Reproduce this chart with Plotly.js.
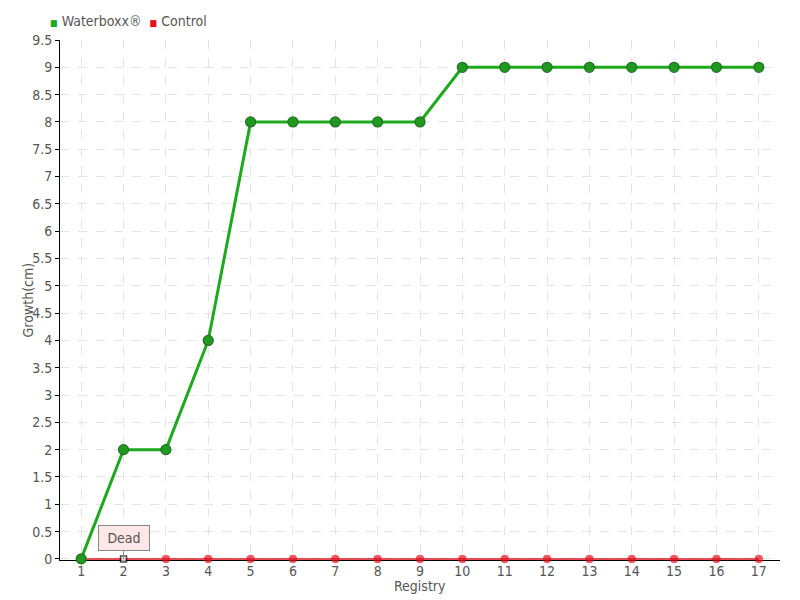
<!DOCTYPE html>
<html>
<head>
<meta charset="utf-8">
<script src="https://cdn.plot.ly/plotly-3.0.1.min.js"></script>
<style>
  html, body { margin: 0; padding: 0; background: #fff; }
  #chart { width: 800px; height: 600px; }
</style>
</head>
<body>
<div id="chart"></div>
<script>
// Registry numbers along the x axis
const registry = [1, 2, 3, 4, 5, 6, 7, 8, 9, 10, 11, 12, 13, 14, 15, 16, 17];
// Growth (cm) per registry
const waterboxx = [0, 2, 2, 4, 8, 8, 8, 8, 8, 9, 9, 9, 9, 9, 9, 9, 9];
const control = [0, 0, 0, 0, 0, 0, 0, 0, 0, 0, 0, 0, 0, 0, 0, 0, 0];
// Registry where the control plant is marked dead
const deadRegistry = 2;
const deadLabel = "Dead";
const seriesNames = ["Waterboxx®", "Control"];
const axisTitles = { x: "Registry", y: "Growth(cm)" };
const yTicks = [0, 0.5, 1, 1.5, 2, 2.5, 3, 3.5, 4, 4.5, 5, 5.5, 6, 6.5, 7, 7.5, 8, 8.5, 9, 9.5];

const font = "DejaVu Sans Condensed, sans-serif";
const textColor = "#555";
const green = "#1ea81e";
const red = "#e8101e";

const ctrlSymbols = registry.map(r => r === deadRegistry ? "square" : "circle");
const ctrlColors = registry.map(r => r === deadRegistry ? "#ffffff" : red);
const ctrlLineColors = registry.map(r => r === deadRegistry ? "#000000" : "#d01020");
const ctrlSizes = registry.map(r => r === deadRegistry ? 6 : 8);
const ctrlLineWidths = registry.map(r => r === deadRegistry ? 1.5 : 0.5);

const traces = [
  {
    x: registry, y: control, type: "scatter", mode: "lines+markers",
    name: seriesNames[1], cliponaxis: false,
    line: { color: "#e0101e", width: 1.5 },
    marker: { symbol: ctrlSymbols, color: ctrlColors, size: ctrlSizes,
              line: { color: ctrlLineColors, width: ctrlLineWidths } }
  },
  {
    x: registry, y: waterboxx, type: "scatter", mode: "lines+markers",
    name: seriesNames[0], cliponaxis: false,
    line: { color: green, width: 3 },
    marker: { symbol: "circle", color: "#1f9a1f", size: 10,
              line: { color: "#237023", width: 1.2 } }
  }
];

const layout = {
  width: 800, height: 600,
  margin: { l: 60, r: 20, t: 40, b: 40, autoexpand: false },
  paper_bgcolor: "#fff", plot_bgcolor: "#fff",
  font: { family: font, size: 14, color: textColor },
  showlegend: false,
  xaxis: {
    range: [0.5, 17.5], tickmode: "array", tickvals: registry,
    ticktext: registry.map(String),
    showgrid: true, gridcolor: "#e3e3e3", griddash: "dash", gridwidth: 1,
    zeroline: false, showline: true, linecolor: "#000", linewidth: 1,
    layer: "below traces",
    ticks: "", ticklabelstandoff: -2, tickfont: { size: 14, color: textColor }
  },
  yaxis: {
    // a hair below zero so the control line sits on the axis line instead of being clipped
    range: [-0.02, 9.5], tickmode: "array", tickvals: yTicks,
    showgrid: true, gridcolor: "#e3e3e3", griddash: "dash", gridwidth: 1,
    zeroline: false, showline: true, linecolor: "#000", linewidth: 1,
    layer: "below traces",
    ticks: "outside", ticklen: 4, tickcolor: "#000",
    tickfont: { size: 14, color: textColor }
  },
  annotations: [
    {
      x: deadRegistry, y: control[registry.indexOf(deadRegistry)],
      xref: "x", yref: "y", text: deadLabel,
      showarrow: true, arrowhead: 0, arrowwidth: 1, arrowcolor: "#888",
      ax: 0, ay: -21,
      bgcolor: "#fde6e6", bordercolor: "#888", borderwidth: 1, borderpad: 4,
      width: 42,
      font: { family: font, size: 14, color: textColor }
    },
    {
      xref: "paper", yref: "paper", x: 0.5, y: -0.031, xanchor: "center", yanchor: "top",
      text: axisTitles.x, showarrow: false,
      font: { family: font, size: 14, color: textColor }
    },
    {
      xref: "paper", yref: "paper", x: -0.03, y: 0.5, xanchor: "right", yanchor: "middle",
      text: axisTitles.y, textangle: -90, showarrow: false,
      font: { family: font, size: 14, color: textColor }
    },
    {
      xref: "paper", yref: "paper", x: -0.017, y: 1.0365, xanchor: "left", yanchor: "middle",
      showarrow: false,
      text: `<span style="color:${green};font-size:9px">■</span> ${seriesNames[0]}  ` +
            `<span style="color:${red};font-size:9px">■</span> ${seriesNames[1]}`,
      font: { family: font, size: 14, color: textColor }
    }
  ]
};

Plotly.newPlot("chart", traces, layout, { displayModeBar: false, staticPlot: true });
</script>
</body>
</html>
